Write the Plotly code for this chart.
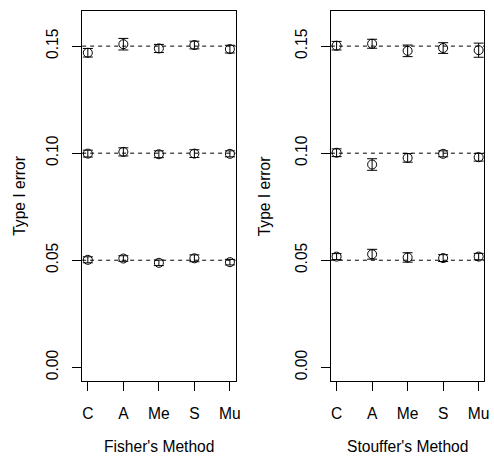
import plotly.graph_objects as go

categories = ["C", "A", "Me", "S", "Mu"]
ytick_vals = [0.00, 0.05, 0.10, 0.15]
ytick_text = ["0.00", "0.05", "0.10", "0.15"]
ref_levels = [0.05, 0.10, 0.15]

fisher_05 = [0.0502, 0.0508, 0.0488, 0.0509, 0.0491]
fisher_05_err = [0.0014, 0.0013, 0.0013, 0.0016, 0.0013]
fisher_10 = [0.0998, 0.1006, 0.0995, 0.0998, 0.0997]
fisher_10_err = [0.0016, 0.0019, 0.0016, 0.0018, 0.0014]
fisher_15 = [0.1469, 0.1509, 0.1489, 0.1505, 0.1486]
fisher_15_err = [0.0020, 0.0027, 0.0019, 0.0018, 0.0018]

stouffer_05 = [0.0517, 0.0528, 0.0513, 0.0510, 0.0517]
stouffer_05_err = [0.0014, 0.0023, 0.0022, 0.0016, 0.0015]
stouffer_10 = [0.1002, 0.0947, 0.0978, 0.0997, 0.0981]
stouffer_10_err = [0.0018, 0.0027, 0.0020, 0.0014, 0.0018]
stouffer_15 = [0.1502, 0.1511, 0.1478, 0.1491, 0.1481]
stouffer_15_err = [0.0020, 0.0021, 0.0027, 0.0025, 0.0033]

W, H = 494, 456
FONT = "Liberation Sans, Arial, Helvetica, sans-serif"
FS = 15.6

xpos = [1, 2, 3, 4, 5]

fig = go.Figure()

panels = [
    ("x", "y", [(fisher_05, fisher_05_err), (fisher_10, fisher_10_err), (fisher_15, fisher_15_err)]),
    ("x2", "y2", [(stouffer_05, stouffer_05_err), (stouffer_10, stouffer_10_err), (stouffer_15, stouffer_15_err)]),
]

for xa, ya, series in panels:
    for vals, errs in series:
        fig.add_trace(go.Scatter(
            x=xpos, y=vals, xaxis=xa, yaxis=ya, mode="markers",
            marker=dict(symbol="circle-open", size=9, color="black", line=dict(width=1, color="black")),
            error_y=dict(type="data", array=errs, visible=True, color="black", thickness=1, width=5),
            showlegend=False, hoverinfo="skip",
        ))
    for lv in ref_levels:
        fig.add_shape(type="line", xref=xa + " domain", yref=ya, x0=0, x1=1, y0=lv, y1=lv,
                      line=dict(color="black", width=1, dash="4px,4px"))

left_dom = [83 / W, 238 / W]
right_dom = [334.3 / W, 489.3 / W]
y_dom = [1 - 381 / H, 1 - 11 / H]

xcommon = dict(range=[0.84, 5.16], tickvals=xpos, ticktext=categories, ticks="outside", ticklen=9,
               tickcolor="black", tickwidth=1, showline=True, linecolor="black", linewidth=1, mirror=True,
               showgrid=False, zeroline=False, ticklabelstandoff=9,
               tickfont=dict(family=FONT, size=FS, color="black"))
ycommon = dict(range=[-0.0064, 0.1664], tickvals=ytick_vals, ticktext=ytick_text, ticks="outside", ticklen=9,
               tickcolor="black", tickwidth=1, showline=True, linecolor="black", linewidth=1, mirror=True,
               showgrid=False, zeroline=False, tickangle=-90, ticklabelstandoff=8,
               tickfont=dict(family=FONT, size=FS, color="black"))

fig.update_layout(
    width=W, height=H, margin=dict(l=0, r=0, t=0, b=0),
    paper_bgcolor="white", plot_bgcolor="white",
    xaxis=dict(domain=left_dom, anchor="y", **xcommon),
    yaxis=dict(domain=y_dom, anchor="x", **ycommon),
    xaxis2=dict(domain=right_dom, anchor="y2", **xcommon),
    yaxis2=dict(domain=y_dom, anchor="x2", **ycommon),
    font=dict(family=FONT, size=FS, color="black"),
)

annos = [
    dict(text="Fisher's Method", x=(83 + 238) / 2 / W, y=1 - 446 / H, textangle=0),
    dict(text="Stouffer's Method", x=(334.3 + 489.3) / 2 / W, y=1 - 446 / H, textangle=0),
    dict(text="Type I error", x=19 / W, y=1 - 196 / H, textangle=-90),
    dict(text="Type I error", x=267 / W, y=1 - 196 / H, textangle=-90),
]
for a in annos:
    fig.add_annotation(xref="paper", yref="paper", showarrow=False, xanchor="center", yanchor="middle",
                       borderpad=0, font=dict(family=FONT, size=FS, color="black"), **a)

fig.write_html("out.html")
